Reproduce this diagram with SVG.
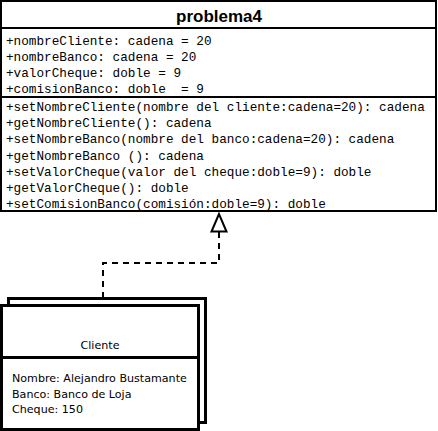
<svg xmlns="http://www.w3.org/2000/svg" width="438" height="431" viewBox="0 0 438 431">
<style>
.box{fill:#fff;stroke:#000;stroke-width:2}
.obj{fill:#fff;stroke:#000;stroke-width:3}
.mono{font-family:"Liberation Mono","Courier New",monospace;font-size:12.7px;fill:#000;white-space:pre}
.sans{font-family:"DejaVu Sans",Verdana,sans-serif;font-size:11.1px;fill:#000}
.title{font-family:"Liberation Sans",Arial,sans-serif;font-size:17px;font-weight:bold;fill:#000}
.dash{fill:none;stroke:#000;stroke-width:2;stroke-dasharray:6 5}
</style>
<rect width="438" height="431" fill="#fff"/>
<g id="problema4">
<rect class="box" x="1" y="1" width="435" height="210"/>
<line x1="1" y1="28" x2="436" y2="28" stroke="#000" stroke-width="2"/>
<line x1="1" y1="97" x2="436" y2="97" stroke="#000" stroke-width="2"/>
<text class="title" x="219" y="22" text-anchor="middle">problema4</text>
<text class="mono" x="6" y="44.5">+nombreCliente: cadena = 20</text>
<text class="mono" x="6" y="60.5">+nombreBanco: cadena = 20</text>
<text class="mono" x="6" y="76.5">+valorCheque: doble = 9</text>
<text class="mono" x="6" y="92.5" xml:space="preserve">+comisionBanco: doble  = 9</text>
<text class="mono" x="6" y="111">+setNombreCliente(nombre del cliente:cadena=20): cadena</text>
<text class="mono" x="6" y="127.2">+getNombreCliente(): cadena</text>
<text class="mono" x="6" y="143.4">+setNombreBanco(nombre del banco:cadena=20): cadena</text>
<text class="mono" x="6" y="159.6">+getNombreBanco (): cadena</text>
<text class="mono" x="6" y="175.8">+setValorCheque(valor del cheque:doble=9): doble</text>
<text class="mono" x="6" y="192">+getValorCheque(): doble</text>
<text class="mono" x="6" y="208.2">+setComisionBanco(comisión:doble=9): doble</text>
</g>
<g id="connectors">
<path class="dash" d="M219,232 V263 H103 V298"/>
<polygon points="219,214 211.5,231.5 226.5,231.5" fill="#fff" stroke="#000" stroke-width="2"/>
</g>
<g id="Cliente">
<rect class="obj" x="8.5" y="298.5" width="197" height="124"/>
<rect class="obj" x="1.5" y="305.5" width="197" height="124"/>
<line x1="1.5" y1="357.5" x2="198.5" y2="357.5" stroke="#000" stroke-width="3"/>
<text class="sans" x="100" y="349" text-anchor="middle">Cliente</text>
<text class="sans" x="12" y="382">Nombre: Alejandro Bustamante</text>
<text class="sans" x="12" y="397.5">Banco: Banco de Loja</text>
<text class="sans" x="12" y="413">Cheque: 150</text>
</g>
</svg>
